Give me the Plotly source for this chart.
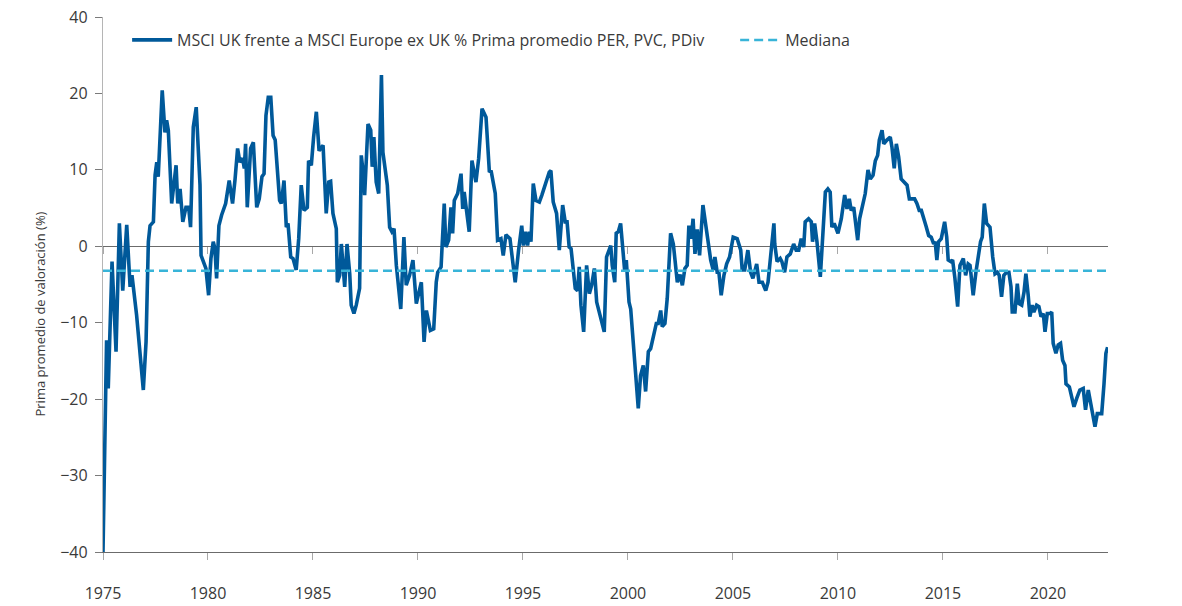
import plotly.graph_objects as go

# ---- data ----
years = [1975.0, 1975.17, 1975.25, 1975.43, 1975.62, 1975.78, 1975.94, 1976.13, 1976.29, 1976.38,
         1976.6, 1976.79, 1976.92, 1977.05, 1977.16, 1977.24, 1977.4, 1977.48, 1977.56, 1977.63,
         1977.82, 1977.95, 1978.03, 1978.11, 1978.27, 1978.48, 1978.56, 1978.67, 1978.8, 1978.95,
         1979.08, 1979.17, 1979.3, 1979.44, 1979.62, 1979.67, 1979.78, 1979.9, 1980.03, 1980.14,
         1980.25, 1980.33, 1980.41, 1980.52, 1980.65, 1980.76, 1980.84, 1981.01, 1981.17, 1981.29,
         1981.41, 1981.52, 1981.65, 1981.73, 1981.79, 1981.87, 1982.03, 1982.16, 1982.32, 1982.44,
         1982.57, 1982.67, 1982.76, 1982.87, 1982.99, 1983.1, 1983.2, 1983.41, 1983.49, 1983.62,
         1983.73, 1983.81, 1983.94, 1984.05, 1984.2, 1984.32, 1984.44, 1984.57, 1984.73, 1984.79,
         1984.92, 1985.03, 1985.16, 1985.29, 1985.48, 1985.63, 1985.75, 1985.84, 1985.95, 1986.11,
         1986.16, 1986.27, 1986.35, 1986.51, 1986.62, 1986.75, 1986.82, 1986.95, 1987.06, 1987.22,
         1987.3, 1987.38, 1987.46, 1987.62, 1987.75, 1987.82, 1987.9, 1988.01, 1988.13, 1988.26,
         1988.33, 1988.54, 1988.65, 1988.76, 1988.86, 1988.97, 1989.18, 1989.33, 1989.44, 1989.6,
         1989.76, 1989.92, 1990.03, 1990.16, 1990.29, 1990.4, 1990.59, 1990.75, 1990.87, 1990.94,
         1991.1, 1991.25, 1991.33, 1991.46, 1991.57, 1991.65, 1991.73, 1991.89, 1992.05, 1992.13,
         1992.2, 1992.44, 1992.57, 1992.76, 1992.89, 1993.05, 1993.24, 1993.4, 1993.48, 1993.68,
         1993.79, 1993.95, 1994.06, 1994.19, 1994.38, 1994.51, 1994.63, 1994.79, 1994.94, 1995.02,
         1995.11, 1995.22, 1995.3, 1995.38, 1995.49, 1995.62, 1995.78, 1995.9, 1996.1, 1996.25,
         1996.33, 1996.44, 1996.6, 1996.73, 1996.89, 1997.01, 1997.1, 1997.2, 1997.29, 1997.37,
         1997.49, 1997.6, 1997.68, 1997.76, 1997.89, 1998.03, 1998.16, 1998.27, 1998.4, 1998.51,
         1998.63, 1998.76, 1998.87, 1998.98, 1999.1, 1999.18, 1999.25, 1999.37, 1999.44, 1999.54,
         1999.65, 1999.76, 1999.84, 1999.92, 2000.05, 2000.13, 2000.29, 2000.4, 2000.49, 2000.6,
         2000.73, 2000.84, 2000.97, 2001.08, 2001.24, 2001.35, 2001.44, 2001.56, 2001.63, 2001.76,
         2001.87, 2002.03, 2002.16, 2002.27, 2002.35, 2002.48, 2002.59, 2002.71, 2002.82, 2002.9,
         2003.01, 2003.1, 2003.19, 2003.3, 2003.41, 2003.57, 2003.7, 2003.81, 2003.94, 2004.06,
         2004.14, 2004.25, 2004.33, 2004.44, 2004.57, 2004.7, 2004.84, 2005.01, 2005.2, 2005.37,
         2005.44, 2005.56, 2005.71, 2005.84, 2005.95, 2006.13, 2006.24, 2006.4, 2006.56, 2006.67,
         2006.8, 2006.95, 2006.99, 2007.1, 2007.25, 2007.33, 2007.46, 2007.57, 2007.73, 2007.89,
         2008.01, 2008.13, 2008.25, 2008.37, 2008.44, 2008.6, 2008.73, 2008.79, 2008.89, 2009.0,
         2009.16, 2009.27, 2009.4, 2009.52, 2009.63, 2009.71, 2009.82, 2010.0, 2010.16, 2010.32,
         2010.43, 2010.54, 2010.63, 2010.75, 2010.82, 2010.94, 2011.03, 2011.18, 2011.3, 2011.43,
         2011.54, 2011.67, 2011.78, 2011.89, 2011.97, 2012.1, 2012.18, 2012.33, 2012.49, 2012.57,
         2012.68, 2012.78, 2012.89, 2013.01, 2013.13, 2013.29, 2013.4, 2013.52, 2013.65, 2013.76,
         2013.87, 2013.97, 2014.08, 2014.19, 2014.32, 2014.44, 2014.56, 2014.63, 2014.71, 2014.79,
         2014.92, 2015.08, 2015.18, 2015.25, 2015.37, 2015.46, 2015.57, 2015.7, 2015.81, 2015.97,
         2016.08, 2016.2, 2016.29, 2016.44, 2016.57, 2016.68, 2016.79, 2016.87, 2016.97, 2017.08,
         2017.24, 2017.37, 2017.48, 2017.59, 2017.68, 2017.79, 2017.9, 2018.03, 2018.14, 2018.24,
         2018.3, 2018.43, 2018.54, 2018.63, 2018.75, 2018.86, 2018.95, 2019.06, 2019.14, 2019.25,
         2019.33, 2019.46, 2019.57, 2019.67, 2019.78, 2019.86, 2019.97, 2020.1, 2020.18, 2020.25,
         2020.38, 2020.49, 2020.6, 2020.7, 2020.81, 2020.86, 2021.02, 2021.13, 2021.24, 2021.37,
         2021.52, 2021.68, 2021.79, 2021.92, 2022.08, 2022.24, 2022.35, 2022.56, 2022.67, 2022.76,
         2022.84]

premium = [-40.0, -12.3, -18.6, -2.0, -13.8, 3.0, -5.8, 2.8, -5.3, -3.8,
           -9.0, -15.6, -18.8, -12.5, 0.6, 2.7, 3.2, 9.3, 11.0, 9.1,
           20.4, 14.9, 16.5, 15.2, 5.6, 10.6, 5.6, 7.5, 3.2, 5.1,
           5.1, 2.5, 15.6, 18.2, 8.0, -1.2, -2.0, -2.9, -6.4, -1.6,
           0.6, -0.3, -4.2, 2.7, 4.1, 5.1, 5.6, 8.6, 5.6, 8.8,
           12.8, 11.0, 11.5, 10.2, 13.4, 5.1, 12.8, 13.6, 5.1, 6.2,
           9.1, 9.5, 17.1, 19.5, 19.5, 14.5, 13.9, 6.0, 5.6, 8.6,
           2.5, 3.0, -1.4, -1.6, -3.1, 1.0, 8.0, 4.7, 5.1, 11.2,
           10.6, 14.3, 17.6, 12.5, 13.2, 4.3, 8.4, 8.5, 4.3, 2.3,
           -4.7, -3.8, 0.3, -5.3, 0.3, -3.6, -7.7, -8.8, -7.7, -5.5,
           11.9, 9.9, 6.7, 16.0, 15.2, 10.4, 14.3, 8.4, 6.9, 22.4,
           12.3, 8.0, 2.5, 1.9, 2.3, -2.5, -8.2, 1.2, -5.1, -3.8,
           -1.8, -7.5, -6.0, -4.7, -12.5, -8.4, -11.0, -10.8, -4.7, -3.4,
           -2.7, 5.6, -0.1, 0.8, 5.1, 1.7, 6.0, 6.9, 9.5, 4.9,
           7.1, 1.9, 11.2, 8.4, 11.5, 18.0, 16.9, 9.7, 9.9, 6.9,
           0.8, 1.0, -1.2, 1.5, 1.0, -2.3, -4.7, -0.5, 2.7, 0.1,
           1.9, 0.1, 1.9, 0.6, 8.2, 6.0, 5.8, 6.7, 8.6, 9.7,
           9.9, 5.8, 4.3, -0.5, 5.4, 3.2, 3.2, -0.1, -0.3, -2.9,
           -5.5, -5.8, -2.7, -7.7, -11.2, -2.5, -6.2, -5.1, -2.9, -7.3,
           -8.6, -9.7, -11.2, -1.4, -0.3, 0.1, -2.5, -4.7, 1.7, 1.9,
           3.0, -1.2, -3.1, -1.8, -7.3, -8.2, -13.4, -17.3, -21.2, -16.9,
           -15.6, -19.0, -13.8, -13.4, -11.6, -10.1, -10.1, -8.4, -10.5, -10.1,
           -6.8, 1.7, 0.3, -3.4, -4.7, -3.7, -5.1, -2.9, -2.5, 2.7,
           1.0, 3.6, -1.0, 2.2, -1.2, 5.4, 3.0, 1.4, -1.8, -3.1,
           -1.4, -3.4, -3.4, -6.4, -3.8, -2.3, -1.4, 1.2, 1.0, -0.5,
           -3.1, -3.1, -0.5, -3.4, -4.2, -2.3, -4.7, -4.7, -5.8, -4.7,
           -0.7, 3.0, 0.3, -2.0, -1.6, -2.0, -3.4, -1.4, -1.0, 0.3,
           -0.5, -0.5, 1.0, -0.1, 3.2, 3.6, 3.2, 0.6, 3.0, 0.6,
           -4.0, 0.8, 7.1, 7.5, 7.1, 2.5, 3.0, 1.7, 3.6, 6.7,
           4.9, 6.2, 4.7, 5.1, 3.4, 0.8, 3.6, 5.6, 6.9, 10.0,
           8.8, 9.3, 11.2, 11.9, 13.9, 15.2, 13.4, 13.9, 14.3, 13.0,
           10.2, 13.4, 11.7, 8.8, 8.4, 8.0, 6.2, 6.2, 6.2, 5.6,
           4.7, 4.7, 3.8, 2.7, 1.4, 1.2, 0.3, 0.6, -1.8, 0.6,
           1.0, 3.2, 1.2, -1.8, -2.0, -1.8, -4.2, -7.9, -2.5, -1.6,
           -3.8, -2.3, -2.5, -6.4, -3.4, -1.4, 0.6, 1.2, 5.6, 3.0,
           2.5, -1.4, -3.6, -3.4, -3.8, -6.6, -3.8, -3.4, -3.4, -5.3,
           -8.6, -8.6, -4.9, -7.5, -7.7, -6.0, -3.6, -6.4, -9.2, -7.7,
           -8.6, -7.7, -7.9, -9.2, -8.8, -11.2, -8.8, -8.8, -8.6, -12.7,
           -14.0, -12.9, -12.7, -14.9, -15.6, -18.0, -18.4, -19.7, -21.0, -19.9,
           -18.8, -18.6, -21.4, -18.8, -21.4, -23.6, -21.9, -21.9, -18.0, -14.0,
           -13.2]

median_value = -3.2

series_name = "MSCI UK frente a MSCI Europe ex UK % Prima promedio PER, PVC, PDiv"
median_name = "Mediana"
y_title = "Prima promedio de valoración (%)"

x_ticks = [1975, 1980, 1985, 1990, 1995, 2000, 2005, 2010, 2015, 2020]
x_ticktext = [str(v) for v in x_ticks]
y_ticks = [-40, -30, -20, -10, 0, 10, 20, 30]
y_ticktext = ["\u221240", "\u221230", "\u221220", "\u221210", "0", "10", "20", "40"]

x_range = [1975, 2022.86]
y_range = [-40, 30]

FONT = "'Open Sans', 'Noto Sans', sans-serif"
TEXT = "#3a3a3a"

fig = go.Figure()
fig.add_trace(go.Scatter(
    x=years, y=premium, mode="lines", name=series_name, legend="legend",
    line=dict(color="#00599a", width=3.6), cliponaxis=False,
))
fig.add_trace(go.Scatter(
    x=[x_range[0], x_range[1]], y=[median_value, median_value], mode="lines",
    name=median_name, xaxis="x2", legend="legend2",
    line=dict(color="#38b4d8", width=2.5, dash="9px,5px"),
))

legend_common = dict(orientation="h", xanchor="left", y=0.957, yanchor="middle",
                     bgcolor="rgba(0,0,0,0)", font=dict(size=16, color=TEXT),
                     itemwidth=40)

fig.update_layout(
    template="none",
    width=1182, height=606, autosize=False,
    margin=dict(l=103, r=74, t=17, b=54, autoexpand=False),
    paper_bgcolor="white", plot_bgcolor="white",
    font=dict(family=FONT, size=16, color=TEXT),
    showlegend=True,
    legend=dict(x=0.024, **legend_common),
    legend2=dict(x=0.629, **legend_common),
    xaxis=dict(range=x_range, tickvals=x_ticks, ticktext=x_ticktext, automargin=False,
               showline=True, linecolor="#6b6b6b", linewidth=1.3,
               ticks="outside", ticklen=7, tickwidth=1.3, tickcolor="#a8a8a8",
               showgrid=False, zeroline=False, ticklabelstandoff=20,
               tickfont=dict(size=16, color=TEXT)),
    xaxis2=dict(range=x_range, overlaying="x", anchor="free", automargin=False,
                position=(0 - y_range[0]) / (y_range[1] - y_range[0]),
                tickvals=x_ticks, showticklabels=False,
                showline=True, linecolor="#6b6b6b", linewidth=1.3,
                ticks="outside", ticklen=7, tickwidth=1.3, tickcolor="#a8a8a8",
                showgrid=False, zeroline=False, layer="below traces"),
    yaxis=dict(range=y_range, tickvals=y_ticks, ticktext=y_ticktext, automargin=False,
               showline=True, linecolor="#b5b5b5", linewidth=1.3,
               ticks="outside", ticklen=7, tickwidth=1.3, tickcolor="#7a7a7a",
               showgrid=False, zeroline=False, ticklabelstandoff=4,
               tickfont=dict(size=16, color=TEXT)),
    annotations=[dict(text=y_title, textangle=-90, showarrow=False,
                      xref="paper", x=-0.0627, xanchor="center",
                      yref="y", y=-8.8, yanchor="middle",
                      font=dict(size=13, color=TEXT))],
)

fig.write_html("out.html", config={"displayModeBar": False},
               post_script="document.body.style.margin='0';")
